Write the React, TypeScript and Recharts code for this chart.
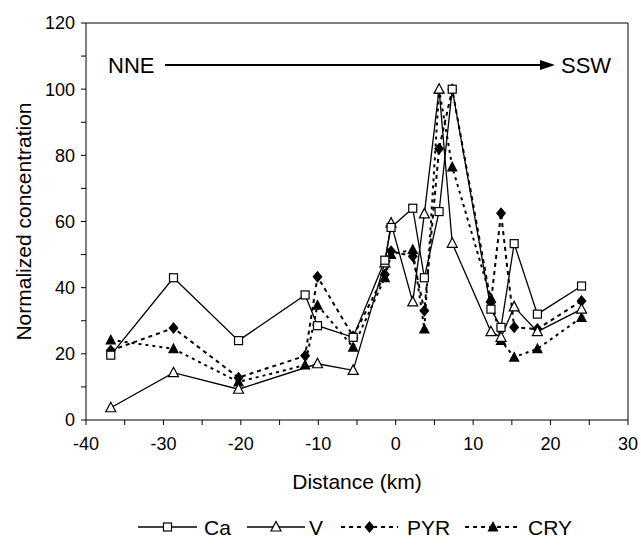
import React from 'react';
import { LineChart, Line, XAxis, YAxis, ReferenceLine } from 'recharts';

const distance = [-36.8, -28.7, -20.3, -11.7, -10.1, -5.5, -1.4, -0.6, 2.2, 3.7, 5.6, 7.3, 12.3, 13.6, 15.3, 18.3, 24];
const ca = [19.6, 43, 24, 37.8, 28.5, 25, 48.3, 58.2, 64, 43, 63, 100, 33.5, 28, 53.3, 32, 40.5];
const v = [3.7, 14.3, 9.3, null, 17, 15, 47.5, 59.5, 35.7, 62.3, 100, 53.4, 26.7, 25, 34.2, 26.7, 33.5];
const pyr = [21, 27.8, 12.8, 19.4, 43.3, 25.3, 44, 51, 49.5, 33, 82, 100, 35.5, 62.5, 28, 27.5, 36];
const cry = [24.2, 21.5, 11.5, 16.6, 34.7, 22, 43, 50, 51.5, 27.5, 100, 76.5, 36.8, 24, 19, 21.5, 31];

const xTicks = [-40, -35, -30, -25, -20, -15, -10, -5, 0, 5, 10, 15, 20, 25, 30];
const yTicks = [0, 10, 20, 30, 40, 50, 60, 70, 80, 90, 100, 110, 120];

const data = distance.map((d, i) => ({ d, ca: ca[i], v: v[i], pyr: pyr[i], cry: cry[i] }));

const FONT = 'Liberation Sans, Arial, sans-serif';

const SquareDot = (p: any) =>
  p.cy == null || p.value == null ? <g key={p.key} /> :
  <rect key={p.key} x={p.cx - 4} y={p.cy - 4} width={8} height={8} fill="#fff" stroke="#000" strokeWidth={1.2} />;

const TriDot = (p: any) =>
  p.cy == null || p.value == null ? <g key={p.key} /> :
  <polygon key={p.key} points={`${p.cx},${p.cy - 5.5} ${p.cx - 5},${p.cy + 4} ${p.cx + 5},${p.cy + 4}`} fill="#fff" stroke="#000" strokeWidth={1.2} />;

const DiamondDot = (p: any) =>
  p.cy == null || p.value == null ? <g key={p.key} /> :
  <polygon key={p.key} points={`${p.cx},${p.cy - 6} ${p.cx + 5},${p.cy} ${p.cx},${p.cy + 6} ${p.cx - 5},${p.cy}`} fill="#000" />;

const FillTriDot = (p: any) =>
  p.cy == null || p.value == null ? <g key={p.key} /> :
  <polygon key={p.key} points={`${p.cx},${p.cy - 6} ${p.cx - 5.5},${p.cy + 4.5} ${p.cx + 5.5},${p.cy + 4.5}`} fill="#000" />;

const YLabel = ({ viewBox }: any) => {
  const cy = viewBox.y + viewBox.height / 2;
  return (
    <text x={23} y={cy} transform={`rotate(-90, 23, ${cy})`} textAnchor="middle" dominantBaseline="central"
      fontSize={21} fontFamily={FONT} fill="#000">
      Normalized concentration
    </text>
  );
};

const legendItems = [
  { name: 'Ca', x1: 138, x2: 197, tx: 204, dash: undefined, Dot: SquareDot },
  { name: 'V', x1: 247, x2: 305, tx: 309, dash: undefined, Dot: TriDot },
  { name: 'PYR', x1: 341, x2: 398, tx: 407, dash: '4 4', Dot: DiamondDot },
  { name: 'CRY', x1: 465, x2: 521, tx: 528, dash: '4 4', Dot: FillTriDot },
];

export default function App() {
  return (
    <div style={{ position: 'relative', width: 641, height: 547, background: '#fff' }}>
      <style>{'body{margin:0}'}</style>
      <LineChart width={641} height={547} data={data} margin={{ top: 23, right: 13, bottom: 47, left: 0 }}>
        <XAxis
          dataKey="d" type="number" domain={[-40, 30]} ticks={xTicks} allowDataOverflow
          tickFormatter={(t: number) => (t % 10 === 0 ? String(t) : '')}
          height={80} stroke="#000" tickSize={5} tickMargin={12}
          tick={{ fill: '#000', fontSize: 18, fontFamily: FONT }}
          label={{ value: 'Distance (km)', position: 'insideBottom', offset: 11, fill: '#000', fontSize: 21, fontFamily: FONT }}
        />
        <YAxis
          type="number" domain={[0, 120]} ticks={yTicks} width={86}
          tickFormatter={(t: number) => (t % 20 === 0 ? String(t) : '')}
          stroke="#000" tickSize={5} tickMargin={6}
          tick={{ fill: '#000', fontSize: 18, fontFamily: FONT }}
          label={{ content: YLabel }}
        />
        <ReferenceLine y={120} stroke="#000" strokeWidth={1} />
        <ReferenceLine x={30} stroke="#000" strokeWidth={1} />
        <Line dataKey="pyr" stroke="#000" strokeWidth={2} strokeDasharray="4 4" dot={DiamondDot} isAnimationActive={false} />
        <Line dataKey="cry" stroke="#000" strokeWidth={2} strokeDasharray="3 4" dot={FillTriDot} isAnimationActive={false} />
        <Line dataKey="v" stroke="#000" strokeWidth={1.3} dot={TriDot} connectNulls isAnimationActive={false} />
        <Line dataKey="ca" stroke="#000" strokeWidth={1.3} dot={SquareDot} isAnimationActive={false} />
      </LineChart>
      <svg width={641} height={547} style={{ position: 'absolute', left: 0, top: 0, pointerEvents: 'none' }}>
        <text x={108} y={73} fontSize={22} fontFamily={FONT} fill="#000">NNE</text>
        <line x1={165} y1={65} x2={542} y2={65} stroke="#000" strokeWidth={2.2} />
        <polygon points="540,60 555,65 540,70" fill="#000" />
        <text x={561} y={73} fontSize={22} fontFamily={FONT} fill="#000">SSW</text>
        {legendItems.map((it) => (
          <g key={it.name}>
            <line x1={it.x1} y1={527} x2={it.x2} y2={527} stroke="#000" strokeWidth={it.dash ? 2 : 1.3} strokeDasharray={it.dash} />
            {it.Dot({ cx: (it.x1 + it.x2) / 2, cy: 527, value: 1, key: it.name })}
            <text x={it.tx} y={535} fontSize={21} fontFamily={FONT} fill="#000">{it.name}</text>
          </g>
        ))}
      </svg>
    </div>
  );
}
